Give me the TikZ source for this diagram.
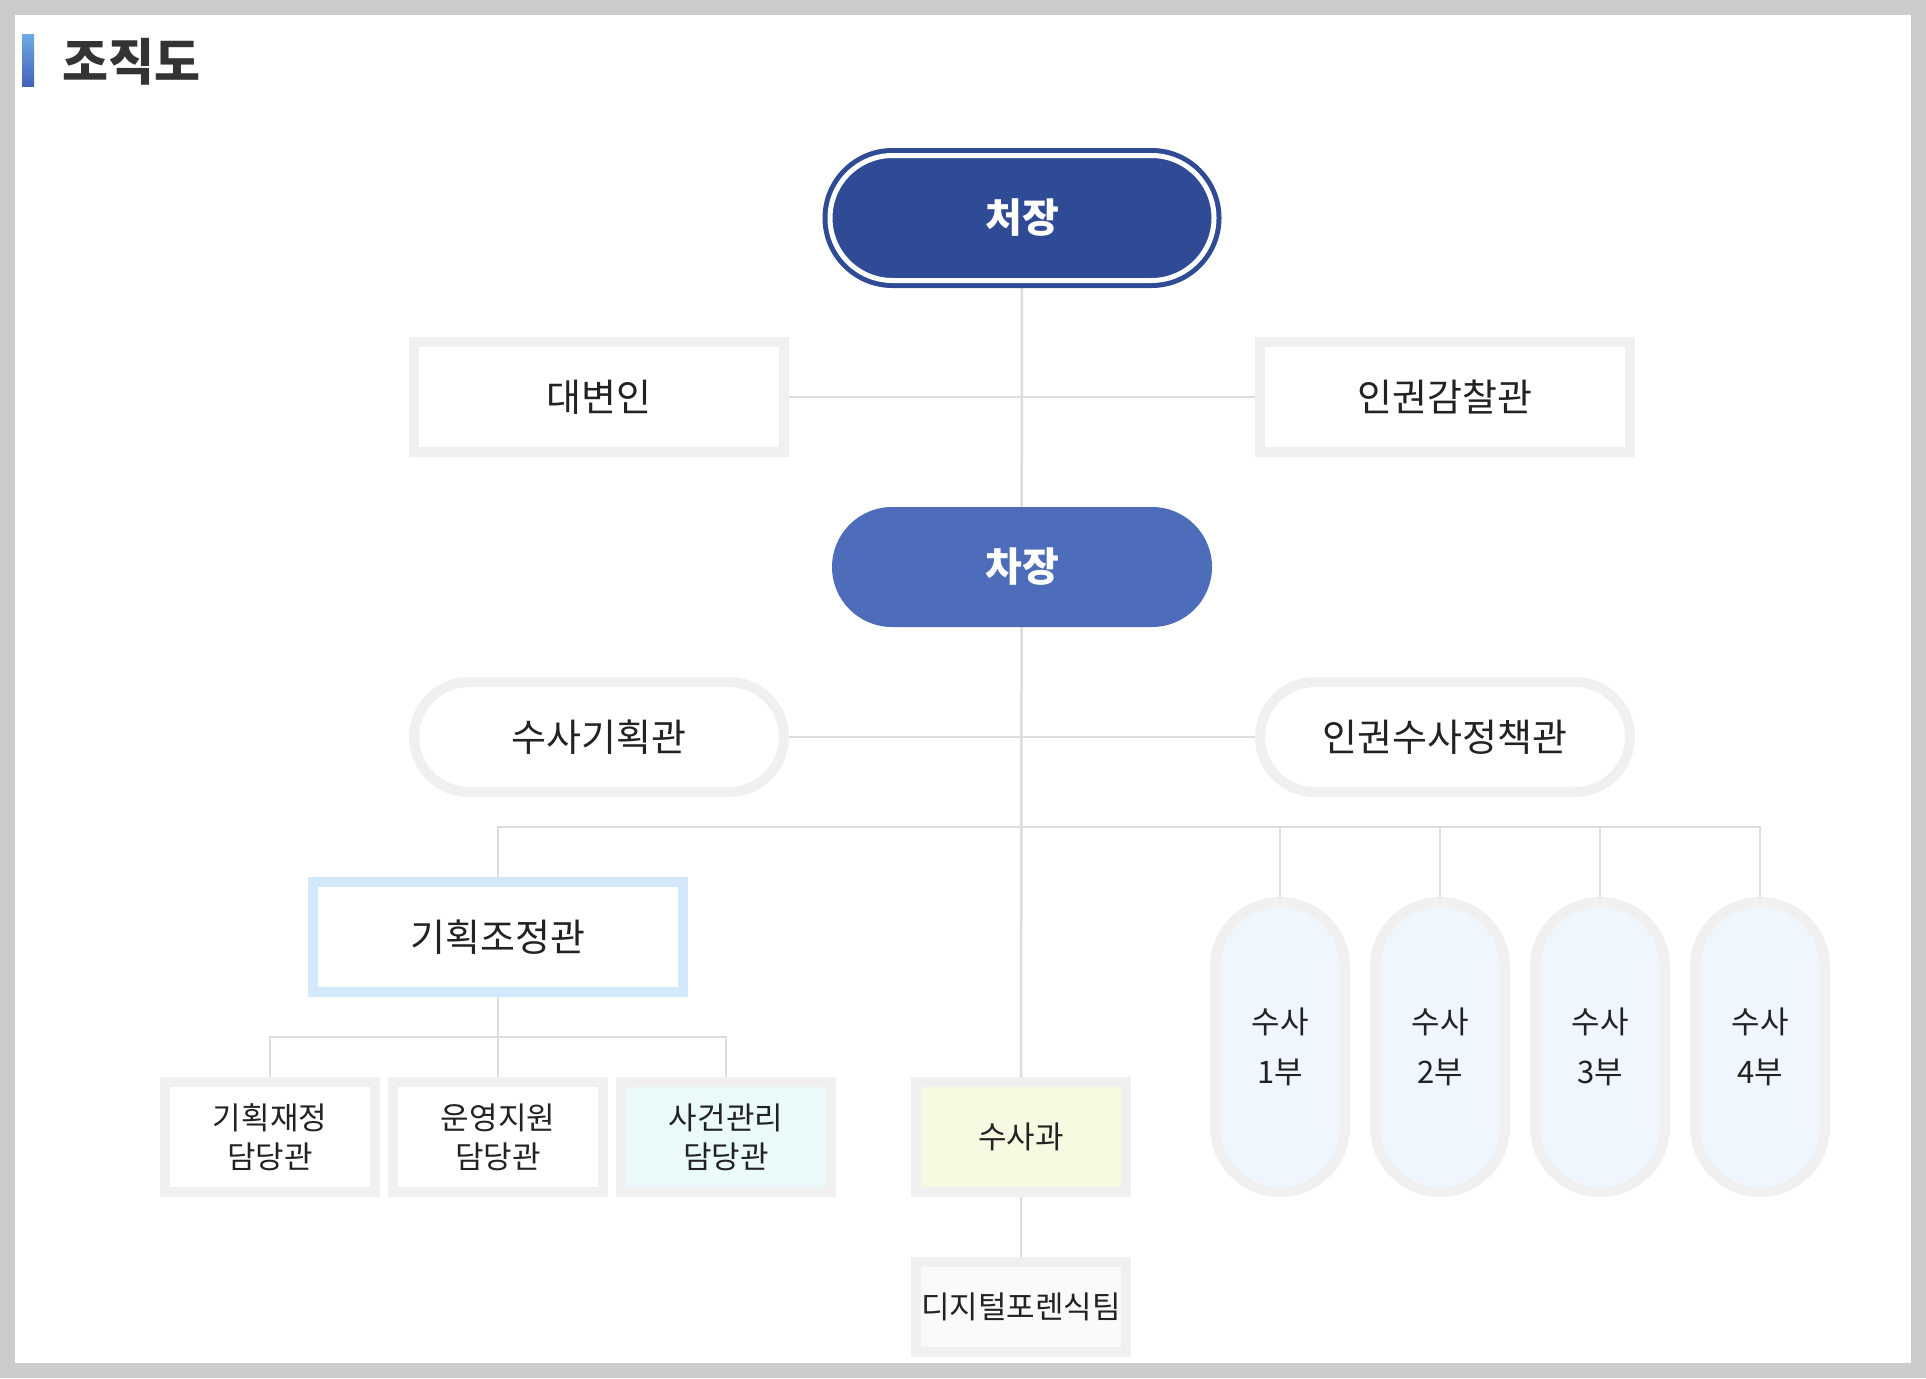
\documentclass[tikz,border=0pt]{standalone}
\usepackage{fontspec}
\setmainfont{Noto Sans CJK KR}
\usetikzlibrary{backgrounds}
\definecolor{frame}{HTML}{CCCCCC}
\definecolor{cjblue}{HTML}{2F4B96}
\definecolor{chblue}{HTML}{4D6DBB}
\definecolor{boxline}{HTML}{F0F0F0}
\definecolor{gjline}{HTML}{D3E8FB}
\definecolor{deptfill}{HTML}{EFF6FD}
\definecolor{cyanfill}{HTML}{EAFAFA}
\definecolor{yelfill}{HTML}{F7F9E1}
\definecolor{greyfill}{HTML}{FAFAFA}
\definecolor{conn}{HTML}{DDDDDD}
\definecolor{txt}{HTML}{222222}
\definecolor{ttl}{HTML}{333333}
\definecolor{barTop}{HTML}{6EA8E4}
\definecolor{barBot}{HTML}{4360BB}
\tikzset{
  basebox/.style={rectangle, draw=boxline, line width=10pt, fill=white, inner sep=0pt,
    text=txt, font=\fontsize{38}{46}\selectfont},
  bigbox/.style={basebox, minimum width=370pt, minimum height=110pt},
  pillbox/.style={bigbox, rounded corners=55pt},
  smallbox/.style={basebox, minimum width=210pt, minimum height=110pt,
    font=\fontsize{31}{39}\selectfont, align=center},
  deptbox/.style={basebox, minimum width=130pt, minimum height=290pt, rounded corners=65pt,
    fill=deptfill, font=\fontsize{31}{50}\selectfont, align=center},
  link/.style={draw=conn, line width=2.5pt},
}
\begin{document}
\begin{tikzpicture}[x=1pt,y=-1pt]
\useasboundingbox (0,0) rectangle (1926,1378);
% title
\shade[top color=barTop, bottom color=barBot] (22,35) rectangle (34,87);
\node[anchor=west, inner sep=0pt, text=ttl, font=\bfseries\fontsize{50}{54}\selectfont] (title) at (62,62) {조직도};
% nodes
\node[fill=cjblue, draw=cjblue, double=white, double distance=5pt, line width=5pt,
  minimum width=384pt, minimum height=125pt, rounded corners=62.5pt, inner sep=0pt,
  text=white, font=\bfseries\fontsize{40}{46}\selectfont] (cj) at (1022,218) {처장};
\node[bigbox] (dbi) at (599,397) {대변인};
\node[bigbox] (ig) at (1445,397) {인권감찰관};
\node[fill=chblue, minimum width=380pt, minimum height=120pt, rounded corners=60pt, inner sep=0pt,
  text=white, font=\bfseries\fontsize{40}{46}\selectfont] (cha) at (1022,567) {차장};
\node[pillbox] (sg) at (599,737) {수사기획관};
\node[pillbox] (ij) at (1445,737) {인권수사정책관};
\node[bigbox, draw=gjline] (gj) at (498,937) {기획조정관};
\node[smallbox] (b1) at (270,1137) {기획재정\\담당관};
\node[smallbox] (b2) at (498,1137) {운영지원\\담당관};
\node[smallbox, fill=cyanfill] (b3) at (726,1137) {사건관리\\담당관};
\node[smallbox, fill=yelfill] (sk) at (1021,1137) {수사과};
\node[smallbox, fill=greyfill, minimum height=90pt] (dt) at (1021,1307) {디지털포렌식팀};
\node[deptbox] (s1) at (1280,1047) {수사\\1부};
\node[deptbox] (s2) at (1440,1047) {수사\\2부};
\node[deptbox] (s3) at (1600,1047) {수사\\3부};
\node[deptbox] (s4) at (1760,1047) {수사\\4부};
\coordinate (hl) at (1021,827);
\coordinate (bl) at (498,1037);
\begin{scope}[on background layer]
  \fill[frame] (0,0) rectangle (1926,1378);
  \fill[white] (15,15) rectangle (1911,1363);
  \draw[link] (cj) -- (sk);
  \draw[link] (sk) -- (dt);
  \draw[link] (dbi) -- (ig);
  \draw[link] (sg) -- (ij);
  \draw[link] (gj) |- (hl) -| (s4);
  \draw[link] (hl) -| (s1);
  \draw[link] (hl) -| (s2);
  \draw[link] (hl) -| (s3);
  \draw[link] (gj) -- (b2);
  \draw[link] (b1) |- (bl) -| (b3);
\end{scope}
\end{tikzpicture}
\end{document}
